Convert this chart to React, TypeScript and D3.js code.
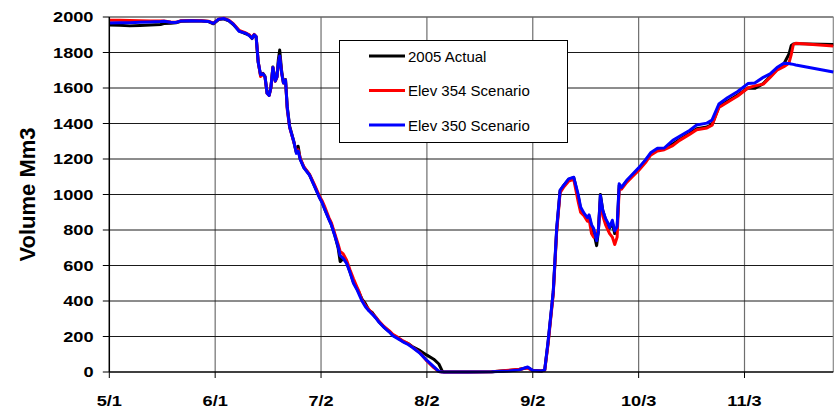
import React from "react";
import * as d3 from "d3";

// Days since 5/1
const days = [0,3,6,9,12,15,16,18,19.5,21,24,27,29,30.5,32,33.5,35,36.3,38,40,41,41.8,42.4,43,43.6,44.3,45,45.6,46.2,46.8,47.3,47.9,48.6,49.1,49.5,49.9,50.5,51,51.6,52.1,52.8,54,54.8,55.3,55.9,57,58.6,60,61.6,62.3,63,64.3,65,66,67,67.6,68.5,69.5,70.5,71.5,72.5,73.2,74,75,76,77,78,79,80.5,82,83,84.5,86,87.5,89,91,93,95,96.5,97.5,98,105,112,117,120,122.5,124,126.5,127.5,128.5,130,131,132,133,134.5,136,137.3,138,139,140,140.5,141.2,141.8,142.7,143.2,143.8,144.5,145.3,146,146.5,147.3,148,148.7,149.3,150,151.5,153,155,157,158.5,160.5,162.5,165,167,170,172,175,176.5,178.5,181,184,187,189,191.5,193.5,195.5,197.5,199,199.7,200.3,201,212];

const actual2005 = [1955,1953,1950,1952,1955,1958,1963,1965,1968,1976,1978,1978,1974,1962,1986,1990,1978,1958,1922,1905,1898,1878,1900,1888,1745,1670,1682,1665,1572,1560,1600,1718,1640,1665,1760,1814,1690,1630,1648,1495,1385,1300,1235,1272,1200,1152,1112,1052,982,958,922,862,832,772,700,622,640,618,562,505,470,445,410,385,348,335,308,282,252,228,208,192,172,160,140,120,95,72,45,5,0,0,2,8,14,25,10,5,12,170,450,800,1020,1050,1085,1095,990,920,890,860,875,820,790,712,790,1000,910,860,830,810,840,780,810,1050,1040,1075,1105,1145,1190,1228,1252,1258,1285,1310,1345,1370,1380,1395,1495,1525,1560,1600,1598,1625,1665,1705,1735,1790,1840,1848,1850,1845];

const elev354 = [1982,1981,1980,1979,1978,1977,1978,1972,1970,1979,1980,1979,1976,1965,1988,1993,1982,1962,1925,1910,1900,1882,1902,1890,1750,1665,1680,1660,1570,1558,1598,1715,1638,1660,1735,1778,1680,1628,1645,1480,1378,1298,1240,1252,1205,1155,1115,1058,988,965,935,870,842,780,720,680,665,630,575,525,480,450,405,375,352,330,310,285,255,232,212,195,175,160,137,108,62,25,3,0,0,0,2,10,15,22,8,5,10,160,440,790,1010,1040,1075,1085,960,900,880,850,860,780,760,770,800,960,880,830,800,780,760,718,760,1030,1030,1068,1098,1135,1180,1222,1245,1252,1275,1305,1340,1365,1375,1390,1490,1520,1555,1600,1612,1622,1660,1700,1720,1740,1790,1845,1852,1836];

const elev350 = [1966,1967,1968,1970,1972,1974,1976,1970,1969,1978,1979,1978,1975,1964,1988,1992,1980,1960,1920,1908,1895,1880,1900,1890,1745,1675,1680,1662,1570,1558,1600,1715,1640,1662,1740,1780,1680,1628,1645,1490,1380,1300,1232,1245,1198,1150,1110,1050,980,955,920,860,830,770,706,655,640,612,560,500,465,435,400,368,345,325,305,280,250,225,205,188,170,155,135,105,65,30,3,0,0,0,2,6,12,28,8,5,12,175,455,810,1025,1050,1088,1097,1000,930,895,870,885,830,810,740,790,995,910,865,840,815,855,795,820,1060,1040,1080,1110,1150,1195,1235,1260,1262,1305,1328,1362,1392,1402,1420,1510,1545,1580,1625,1628,1660,1680,1715,1740,1738,1735,1733,1730,1690];

const tickDays = [0, 31, 62, 93, 124, 155, 186];
const tickLabels = ["5/1", "6/1", "7/2", "8/2", "9/2", "10/3", "11/3"];
const yTicks = [0, 200, 400, 600, 800, 1000, 1200, 1400, 1600, 1800, 2000];

const seriesNames = ["2005 Actual", "Elev 354 Scenario", "Elev 350 Scenario"];
const seriesColors = ["#000000", "#ff0000", "#0000ff"];

const W = 838, H = 411;
const left = 109.3, right = 833.3, top = 17, bottom = 372;

export default function App() {
  const x = d3.scaleLinear().domain([0, 212]).range([left, right]);
  const y = d3.scaleLinear().domain([0, 2000]).range([bottom, top]);
  const line = d3.line<number>().x((_, i) => x(days[i])).y((v) => y(v));
  const series = [actual2005, elev354, elev350];
  const labelFont = "'Liberation Sans', Arial, sans-serif";

  return (
    <svg width={W} height={H} style={{ position: "absolute", left: 0, top: 0, background: "#fff" }}>
      <rect x={0} y={0} width={W} height={H} fill="#fff" />
      {/* vertical gridlines */}
      {tickDays.slice(1).map((d) => (
        <line key={"vg" + d} x1={x(d)} x2={x(d)} y1={top} y2={bottom} stroke="#6e6e6e" strokeWidth={1.2} />
      ))}
      {/* horizontal gridlines */}
      {yTicks.slice(1).map((v) => (
        <line key={"hg" + v} x1={left} x2={right} y1={y(v)} y2={y(v)} stroke="#1a1a1a" strokeWidth={1} />
      ))}
      {/* plot border top/right */}
      <line x1={left} x2={right} y1={top} y2={top} stroke="#888" strokeWidth={1.2} />
      <line x1={right} x2={right} y1={top} y2={bottom} stroke="#888" strokeWidth={1.2} />

      {/* series */}
      {series.map((s, i) => (
        <path key={i} d={line(s) || ""} fill="none" stroke={seriesColors[i]} strokeWidth={3} strokeLinejoin="round" />
      ))}

      {/* axes */}
      <line x1={left} x2={left} y1={top} y2={bottom} stroke="#000" strokeWidth={1.5} />
      <line x1={left} x2={right} y1={bottom} y2={bottom} stroke="#000" strokeWidth={1.5} />
      {yTicks.map((v) => (
        <g key={"yt" + v}>
          <line x1={left - 6.5} x2={left} y1={y(v)} y2={y(v)} stroke="#000" strokeWidth={1} />
          <text
            transform={`translate(93.5,${y(v) + 5}) scale(1.3,1)`}
            textAnchor="end"
            fontFamily={labelFont}
            fontWeight="bold"
            fontSize={14}
            fill="#000"
          >
            {v}
          </text>
        </g>
      ))}
      {tickDays.map((d, i) => (
        <g key={"xt" + d}>
          <line x1={x(d)} x2={x(d)} y1={bottom} y2={bottom + 6} stroke="#000" strokeWidth={1} />
          <text
            transform={`translate(${x(d)},406) scale(1.3,1)`}
            textAnchor="middle"
            fontFamily={labelFont}
            fontWeight="bold"
            fontSize={14}
            fill="#000"
          >
            {tickLabels[i]}
          </text>
        </g>
      ))}
      <text
        transform="translate(35,194.5) rotate(-90)"
        textAnchor="middle"
        fontFamily={labelFont}
        fontWeight="bold"
        fontSize={22}
        fill="#000"
      >
        Volume Mm3
      </text>

      {/* legend */}
      <rect x={339.5} y={40.5} width={228} height={102} fill="#fff" stroke="#000" strokeWidth={1} />
      {seriesNames.map((n, i) => {
        const ly = 56 + i * 34.5;
        return (
          <g key={n}>
            <line x1={369} x2={405} y1={ly} y2={ly} stroke={seriesColors[i]} strokeWidth={3} />
            <text x={408} y={ly + 5.5} fontFamily={labelFont} fontSize={15} fill="#000">
              {n}
            </text>
          </g>
        );
      })}
    </svg>
  );
}
